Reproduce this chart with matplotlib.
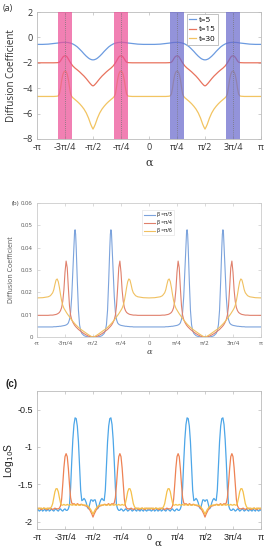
import numpy as np
import matplotlib
matplotlib.use("Agg")
import matplotlib.pyplot as plt

# All curves are even in alpha and mirror-symmetric about pi/2, so each
# series is read off the picture on alpha/pi in [0, 0.5] and unfolded.

TICK_POS = [-1, -0.75, -0.5, -0.25, 0, 0.25, 0.5, 0.75, 1]
TICK_LABELS = ["-π", "-3π/4", "-π/2", "-π/4", "0", "π/4", "π/2", "3π/4", "π"]

# ---- panel (a): diffusion coefficient (log) for three times
A_GRID = [0, 0.05, 0.1, 0.15, 0.18, 0.19, 0.2, 0.21, 0.22, 0.23, 0.24, 0.25,
          0.26, 0.27, 0.28, 0.29, 0.3, 0.31, 0.32, 0.34, 0.36, 0.38, 0.4,
          0.42, 0.44, 0.46, 0.47, 0.48, 0.49, 0.5]
A_T5 = [-0.55, -0.55, -0.53, -0.48, -0.45, -0.44, -0.42, -0.41, -0.40,
        -0.395, -0.39, -0.39, -0.39, -0.40, -0.41, -0.43, -0.45, -0.48,
        -0.52, -0.62, -0.75, -0.92, -1.10, -1.30, -1.48, -1.63, -1.69,
        -1.73, -1.76, -1.77]
A_T15 = [-2.0, -2.0, -2.0, -2.0, -1.99, -1.98, -1.95, -1.85, -1.7, -1.56,
         -1.48, -1.45, -1.47, -1.55, -1.7, -1.86, -2.0, -2.13, -2.25, -2.42,
         -2.56, -2.71, -2.88, -3.05, -3.25, -3.47, -3.58, -3.68, -3.77, -3.82]
A_T30 = [-4.65, -4.65, -4.65, -4.65, -4.63, -4.6, -4.45, -4.0, -3.4, -2.95,
         -2.72, -2.65, -2.7, -2.9, -3.3, -3.9, -4.45, -4.65, -4.75, -4.9,
         -5.05, -5.22, -5.42, -5.65, -5.95, -6.35, -6.6, -6.85, -7.05, -7.22]
A_LABELS = ["t=5", "t=15", "t=30"]
A_BANDS_PINK = [-0.75, -0.25]
A_BANDS_BLUE = [0.25, 0.75]

# ---- panel (b): diffusion coefficient for three beta
B_GRID = [0, 0.05, 0.1, 0.12, 0.14, 0.15, 0.16, 0.17, 0.18, 0.19, 0.2, 0.21,
          0.22, 0.23, 0.24, 0.25, 0.26, 0.27, 0.28, 0.29, 0.3, 0.31, 0.32,
          0.33, 0.335, 0.34, 0.345, 0.35, 0.36, 0.37, 0.38, 0.39, 0.4, 0.42,
          0.44, 0.46, 0.48, 0.49, 0.5]
B_PI3 = [0.0045, 0.0045, 0.0045, 0.0045, 0.0045, 0.0046, 0.0046, 0.0046,
         0.0047, 0.0047, 0.0048, 0.0048, 0.0049, 0.005, 0.0051, 0.0052,
         0.0054, 0.0057, 0.0063, 0.0078, 0.011, 0.018, 0.029, 0.041, 0.0465,
         0.048, 0.046, 0.04, 0.025, 0.012, 0.0055, 0.0028, 0.0016, 0.0006,
         0.0002, 0.00005, 0.0, 0.0, 0.0]
B_PI4 = [0.0097, 0.0097, 0.0097, 0.0098, 0.0098, 0.0099, 0.01, 0.0101,
         0.0103, 0.0106, 0.011, 0.0118, 0.0132, 0.016, 0.021, 0.029, 0.034,
         0.031, 0.022, 0.014, 0.0098, 0.0078, 0.0066, 0.0057, 0.0053, 0.005,
         0.0047, 0.0044, 0.0039, 0.0034, 0.003, 0.0026, 0.0022, 0.0015,
         0.0009, 0.0004, 0.0001, 0.00003, 0.0]
B_PI6 = [0.0175, 0.0176, 0.018, 0.0185, 0.0198, 0.0212, 0.0235, 0.0255,
         0.026, 0.0248, 0.0222, 0.019, 0.0162, 0.0142, 0.0129, 0.012, 0.0112,
         0.0104, 0.0097, 0.009, 0.0083, 0.0076, 0.007, 0.0064, 0.0061,
         0.0058, 0.0055, 0.0053, 0.0048, 0.0043, 0.0039, 0.0035, 0.0031,
         0.0024, 0.0017, 0.001, 0.0004, 0.0001, 0.0]
B_LABELS = ["β =π/3", "β =π/4", "β =π/6"]

# ---- panel (c): log10 S
C_GRID = [0.0, 0.01, 0.02, 0.03, 0.04, 0.05, 0.06, 0.07, 0.08, 0.09, 0.1,
          0.11, 0.12, 0.13, 0.14, 0.15, 0.16, 0.17, 0.18, 0.19, 0.2, 0.21,
          0.22, 0.23, 0.24, 0.25, 0.26, 0.27, 0.28, 0.29, 0.3, 0.31, 0.32,
          0.33, 0.34, 0.35, 0.36, 0.37, 0.38, 0.39, 0.4, 0.41, 0.42, 0.43,
          0.44, 0.45, 0.46, 0.47, 0.48, 0.49, 0.5]
C_BLUE = [-1.85, -1.84, -1.86, -1.85, -1.83, -1.86, -1.85, -1.83, -1.86,
          -1.85, -1.83, -1.86, -1.85, -1.83, -1.85, -1.86, -1.84, -1.83,
          -1.85, -1.86, -1.84, -1.83, -1.85, -1.86, -1.84, -1.83, -1.85,
          -1.85, -1.83, -1.78, -1.55, -1.2, -0.9, -0.7, -0.61, -0.62, -0.72,
          -0.93, -1.25, -1.58, -1.72, -1.71, -1.69, -1.71, -1.75, -1.81,
          -1.83, -1.77, -1.71, -1.71, -1.73]
C_ORANGE = [-1.83, -1.83, -1.82, -1.83, -1.84, -1.83, -1.82, -1.83, -1.83,
            -1.84, -1.83, -1.82, -1.83, -1.83, -1.84, -1.83, -1.82, -1.83,
            -1.83, -1.83, -1.82, -1.79, -1.7, -1.5, -1.28, -1.13, -1.09,
            -1.13, -1.29, -1.5, -1.68, -1.75, -1.77, -1.76, -1.77, -1.78,
            -1.76, -1.77, -1.78, -1.77, -1.77, -1.78, -1.78, -1.79, -1.79,
            -1.8, -1.82, -1.84, -1.87, -1.9, -1.94]
C_YELLOW = [-1.82, -1.82, -1.83, -1.82, -1.82, -1.83, -1.82, -1.82, -1.83,
            -1.82, -1.82, -1.83, -1.82, -1.8, -1.76, -1.68, -1.6, -1.56,
            -1.56, -1.6, -1.68, -1.75, -1.78, -1.78, -1.77, -1.78, -1.78,
            -1.77, -1.78, -1.78, -1.77, -1.78, -1.78, -1.77, -1.78, -1.78,
            -1.77, -1.78, -1.78, -1.78, -1.77, -1.78, -1.78, -1.78, -1.78,
            -1.79, -1.8, -1.82, -1.84, -1.87, -1.9]

W, H = 267, 550
SANS = ["Liberation Sans", "DejaVu Sans"]


def unfold(grid, vals):
    g = np.asarray(grid, dtype=float)
    v = np.asarray(vals, dtype=float)
    g1 = np.concatenate([g, 1 - g[::-1][1:]])
    v1 = np.concatenate([v, v[::-1][1:]])
    g2 = np.concatenate([-g1[::-1][:-1], g1])
    v2 = np.concatenate([v1[::-1][:-1], v1])
    return g2 * np.pi, v2


def box(fig, left, top, right, bottom):
    return fig.add_axes([left / W, 1 - bottom / H, (right - left) / W, (bottom - top) / H])


def style(ax, size, color, edge, family=None):
    ax.set_xlim(-np.pi, np.pi)
    ax.set_xticks([p * np.pi for p in TICK_POS])
    ax.set_xticklabels(TICK_LABELS)
    for s in ax.spines.values():
        s.set_color(edge)
        s.set_linewidth(0.6)
    ax.tick_params(direction="in", length=2, width=0.5, colors=edge,
                   labelcolor=color, labelsize=size, pad=3,
                   top=True, right=True)
    if family:
        for t in ax.get_xticklabels() + ax.get_yticklabels():
            t.set_family(family)


def main():
    plt.rcParams["font.family"] = ["Open Sans", "DejaVu Sans"]
    fig = plt.figure(figsize=(W / 100, H / 100), dpi=100)

    # (a)
    ax = box(fig, 37, 12, 261, 139)
    cols = ["#6c9be0", "#e8735e", "#f2c462"]
    for ys, c, lab in zip([A_T5, A_T15, A_T30], cols, A_LABELS):
        x, y = unfold(A_GRID, ys)
        ax.plot(x, y, color=c, lw=0.9, label=lab)
    for cx in A_BANDS_PINK:
        ax.axvspan((cx - 1 / 16) * np.pi, (cx + 1 / 16) * np.pi,
                   color="#ec4f96", alpha=0.72, lw=0, zorder=3)
    for cx in A_BANDS_BLUE:
        ax.axvspan((cx - 1 / 16) * np.pi, (cx + 1 / 16) * np.pi,
                   color="#6a6acc", alpha=0.72, lw=0, zorder=3)
    for cx in A_BANDS_PINK + A_BANDS_BLUE:
        ax.axvline(cx * np.pi, color="#777777", lw=0.6, ls=(0, (1, 1.5)), zorder=4)
    ax.set_ylim(-8, 2)
    ax.set_yticks([-8, -6, -4, -2, 0, 2])
    style(ax, 6.5, "#333333", "#bbbbbb")
    leg = ax.legend(loc="upper right", bbox_to_anchor=(0.815, 1.0), fontsize=5.8,
                    handlelength=0.9, handletextpad=0.3, borderpad=0.3,
                    labelspacing=0.25, borderaxespad=0.2, fancybox=False,
                    framealpha=1)
    leg.get_frame().set_edgecolor("#aaaaaa")
    leg.get_frame().set_linewidth(0.5)
    leg.set_zorder(5)
    ax.set_ylabel("Diffusion Coefficient", fontsize=7, color="#333333")
    ax.yaxis.set_label_coords(-20 / 224, 0.5)
    fig.text(149 / W, 1 - 163 / H, "α", fontsize=8, family="DejaVu Serif",
             color="#333333", ha="center", va="center")
    fig.text(3 / W, 1 - 8 / H, "(a)", fontsize=6.5, color="#333333", va="center")

    # (b)
    ax = box(fig, 37, 203, 261, 337)
    cols = ["#7ca3dc", "#e0806c", "#f0c060"]
    for ys, c, lab in zip([B_PI3, B_PI4, B_PI6], cols, B_LABELS):
        x, y = unfold(B_GRID, ys)
        ax.plot(x, y, color=c, lw=0.8, label=lab)
    ax.set_ylim(0, 0.06)
    ax.set_yticks([0, 0.01, 0.02, 0.03, 0.04, 0.05, 0.06])
    ax.set_yticklabels(["0", "0.01", "0.02", "0.03", "0.04", "0.05", "0.06"])
    style(ax, 4.3, "#555555", "#cccccc")
    leg = ax.legend(loc="upper left", bbox_to_anchor=(103 / 224, 1 - 5 / 134),
                    fontsize=3.5, handlelength=2.2, handletextpad=0.4,
                    borderpad=0.4, labelspacing=0.6, fancybox=False, framealpha=1)
    leg.get_frame().set_edgecolor("#dddddd")
    leg.get_frame().set_linewidth(0.4)
    ax.set_ylabel("Diffusion Coefficient", fontsize=5, color="#555555")
    ax.yaxis.set_label_coords(-22 / 224, 0.5)
    fig.text(149 / W, 1 - 352 / H, "α", fontsize=6, family="DejaVu Serif",
             style="italic", color="#444444", ha="center", va="center")
    fig.text(12 / W, 1 - 204 / H, "(b)", fontsize=4.5, color="#444444", va="center")

    # (c)
    ax = box(fig, 37, 391, 261, 529)
    cols = ["#4da6e8", "#ee8254", "#f5c04a"]
    for ys, c in zip([C_BLUE, C_ORANGE, C_YELLOW], cols):
        x, y = unfold(C_GRID, ys)
        ax.plot(x, y, color=c, lw=0.9)
    ax.set_ylim(-2.1, -0.25)
    ax.set_yticks([-2, -1.5, -1, -0.5])
    ax.set_yticklabels(["-2", "-1.5", "-1", "-0.5"])
    style(ax, 6.5, "#222222", "#bbbbbb", family=SANS)
    ax.set_ylabel("Log$_{10}$S", fontsize=7.5, color="#222222", family=SANS)
    ax.yaxis.set_label_coords(-21 / 224, 0.5)
    fig.text(158 / W, 1 - 543 / H, "α", fontsize=7.5, family="DejaVu Serif",
             color="#222222", ha="center", va="center")
    fig.text(5 / W, 1 - 384 / H, "(c)", fontsize=7, weight="bold",
             family=SANS, color="#222222", va="center")

    fig.savefig("out.png", dpi=100)


if __name__ == "__main__":
    main()
